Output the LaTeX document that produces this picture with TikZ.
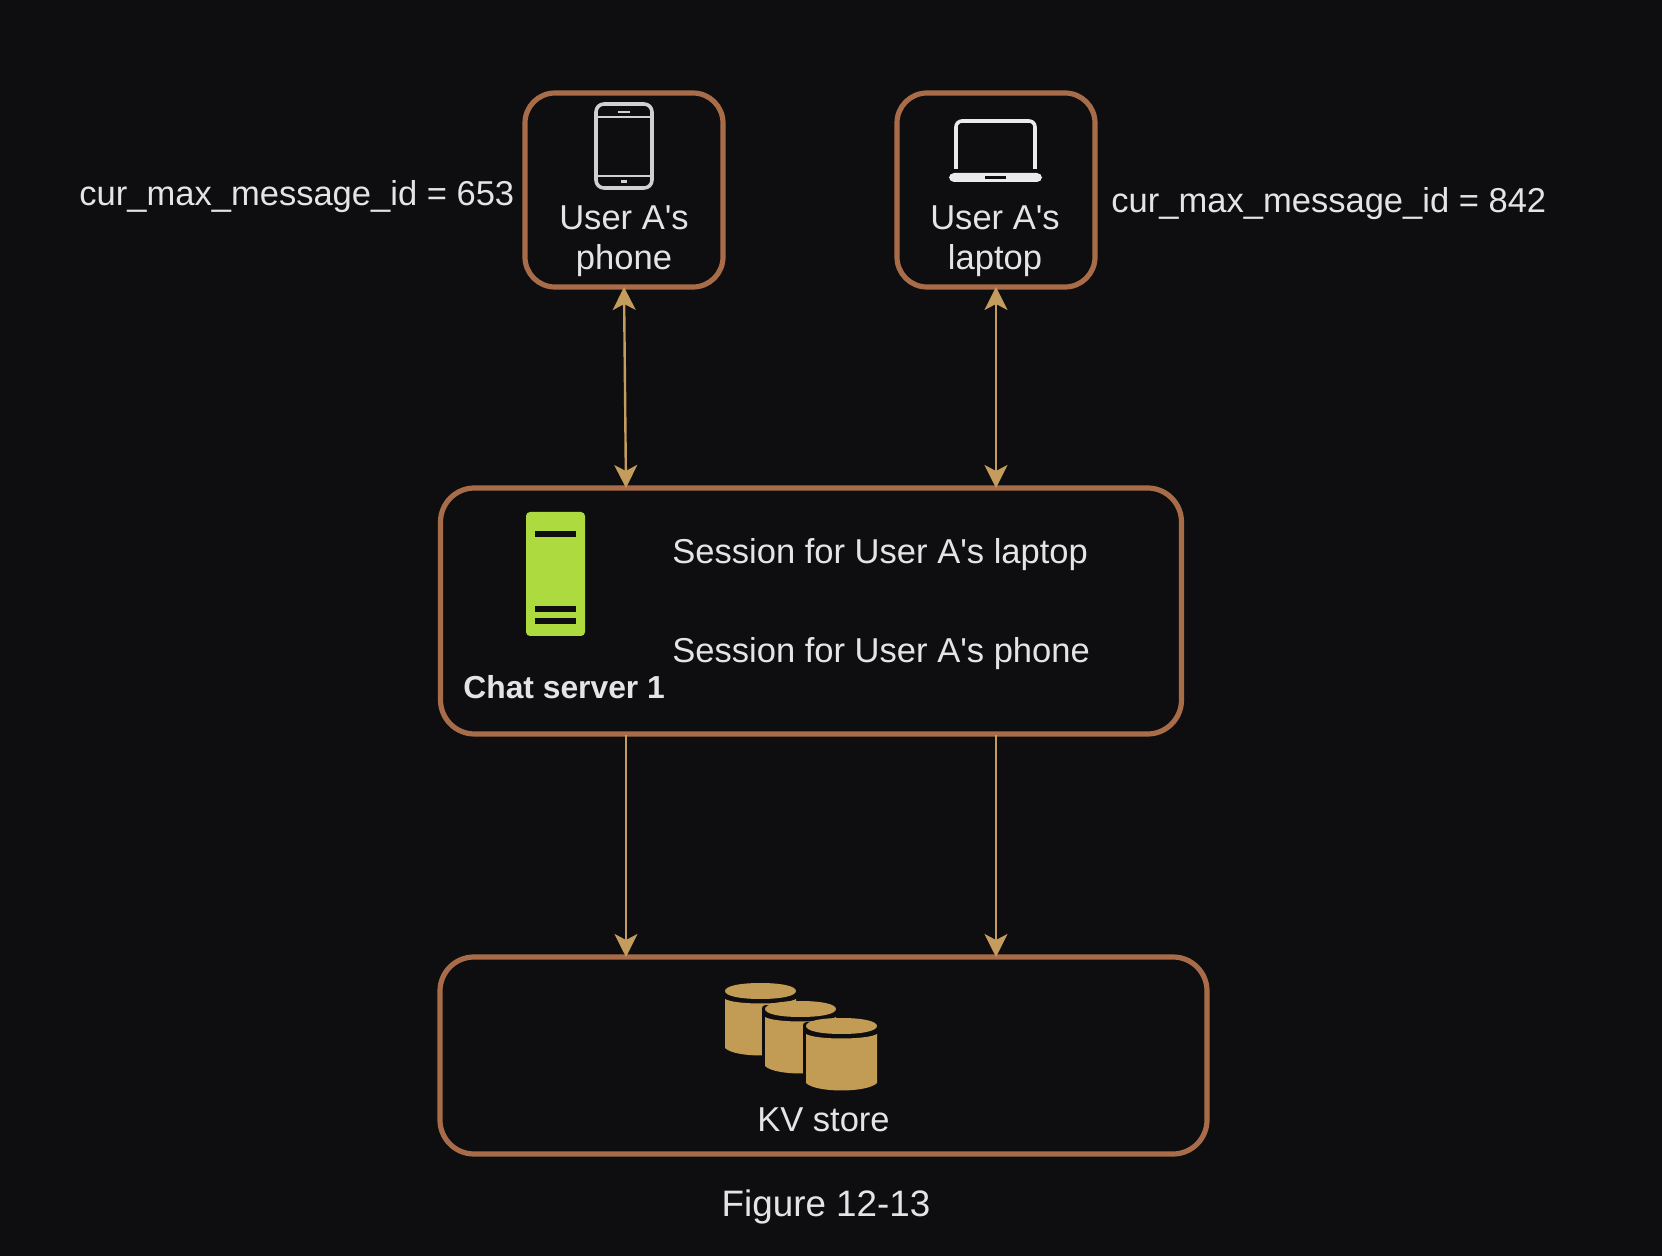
\documentclass[tikz,border=0pt]{standalone}
\usepackage{fontspec}
\setmainfont{Liberation Sans}
\usetikzlibrary{arrows.meta}
\definecolor{bgc}{HTML}{0E0E10}
\definecolor{boxc}{HTML}{A96C48}
\definecolor{arrc}{HTML}{C49C5E}
\definecolor{txtc}{HTML}{E4E4E4}
\definecolor{limec}{HTML}{ADDA3E}
\definecolor{cylc}{HTML}{C29B55}
\definecolor{iconc}{HTML}{D0D0D0}
\newcommand{\ap}{\textquotesingle}
\tikzset{
  frame/.style={draw=boxc,line width=2.6pt,rectangle,inner sep=0pt,outer sep=0pt},
  devbox/.style={frame,rounded corners=15pt,minimum width=99pt,minimum height=97pt},
  widebox/.style={frame,rounded corners=17pt},
  lab/.style={text=txtc,font=\fontsize{17.27}{20}\selectfont,inner sep=0pt,anchor=base west},
  clab/.style={lab,anchor=base},
  link/.style={draw=arrc,line width=1.2pt},
  oneway/.style={link,-{Stealth[length=11.5pt,width=11.5pt,inset=3pt]}},
  twoway/.style={link,{Stealth[length=11.5pt,width=11.5pt,inset=3pt]}-{Stealth[length=11.5pt,width=11.5pt,inset=3pt]}},
  bar/.style={draw=bgc,line width=3pt}
}
\newcommand{\cyldraw}[2]{% left x, ellipse top y
  \def\pth{(#1,#2+16) .. controls (#1+10,#2+22) and (#1+61,#2+22) .. (#1+71,#2+16)
    -- (#1+71,#2+65) .. controls (#1+61,#2+75) and (#1+10,#2+75) .. (#1,#2+65) -- cycle}
  \draw[bgc,fill=bgc,line width=3.5pt,line join=round] (#1,#2+8) -- (#1,#2+65) -- (#1+71,#2+65) -- (#1+71,#2+8) -- cycle;
  \fill[cylc] \pth;
  \fill[cylc] (#1,#2+8) .. controls (#1,#2+3) and (#1+15,#2) .. (#1+35.5,#2)
     .. controls (#1+56,#2) and (#1+71,#2+3) .. (#1+71,#2+8)
     .. controls (#1+71,#2+13) and (#1+56,#2+16) .. (#1+35.5,#2+16)
     .. controls (#1+15,#2+16) and (#1,#2+13) .. (#1,#2+8) -- cycle;
}
\begin{document}
\begin{tikzpicture}[x=0.5pt,y=-0.5pt]
\useasboundingbox[fill=bgc] (0,0) rectangle (1662,1256);

% boxes
\node[devbox] (phone) at (624,190) {};
\node[devbox] (laptop) at (996,190) {};
\node[widebox,minimum width=370.5pt,minimum height=123pt] (chat) at (811,611) {};
\node[widebox,minimum width=383.5pt,minimum height=98.5pt] (kv) at (823.5,1055.5) {};

% connector ends on the wide boxes
\coordinate (chatL) at (626,488);
\coordinate (chatR) at (996,488);
\coordinate (chatBL) at (626,735);
\coordinate (chatBR) at (996,735);
\coordinate (kvL) at (626,957);
\coordinate (kvR) at (996,957);
\draw[twoway] (phone.south) -- (chatL);
\draw[twoway] (laptop.south) -- (chatR);
\draw[oneway] (chatBL) -- (kvL);
\draw[oneway] (chatBR) -- (kvR);

% phone icon
\draw[iconc,line width=1.8pt,rounded corners=4pt] (596,104) rectangle (652,188);
\draw[iconc,line width=1pt] (596,117) -- (652,117) (596,176) -- (652,176);
\fill[iconc] (618,111) rectangle (630,113);
\fill[iconc] (621,180) rectangle (627,183);

% laptop icon
\draw[white!92!black,line width=1.8pt,rounded corners=3pt] (956,169) -- (956,121) -- (1035,121) -- (1035,169);
\fill[white!92!black,rounded corners=2.5pt] (949,173) rectangle (1042,182);
\fill[bgc] (985,176) rectangle (1006,179);

% server icon
\fill[limec,rounded corners=2pt] (526,512) rectangle (585,636);
\draw[bar] (535,534) -- (576,534) (535,609) -- (576,609) (535,621) -- (576,621);

% database icon
\cyldraw{725}{983}
\cyldraw{765}{1001}
\cyldraw{806}{1018}

% texts
\node[lab] (tphone) at (79,206) {cur\_max\_message\_id = 653};
\node[lab] (tlaptop) at (1111,213) {cur\_max\_message\_id = 842};
\node[clab] (p1) at (624,230) {User A\ap s};
\node[clab] (p2) at (624,270) {phone};
\node[clab] (l1) at (995,230) {User A\ap s};
\node[clab] (l2) at (995,270) {laptop};
\node[lab] (s1) at (672,564) {Session for User A\ap s laptop};
\node[lab] (s2) at (672,663) {Session for User A\ap s phone};
\node[lab,font=\bfseries\fontsize{15.9}{20}\selectfont] (srv) at (463,699) {Chat server 1};
\node[clab] (kvt) at (823.5,1131) {KV store};
\node[clab,font=\fontsize{18.4}{22}\selectfont] (fig) at (826,1217) {Figure 12-13};
\end{tikzpicture}
\end{document}
